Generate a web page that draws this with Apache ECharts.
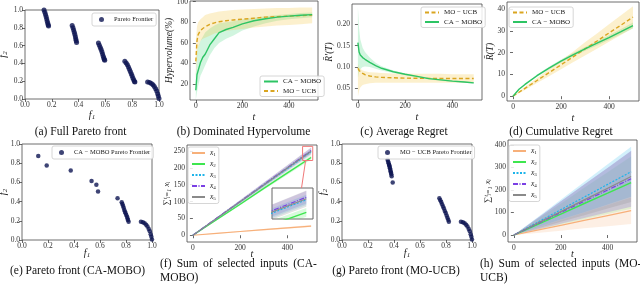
<!DOCTYPE html>
<html><head><meta charset="utf-8">
<script src="https://cdn.jsdelivr.net/npm/echarts@6/dist/echarts.min.js"></script>
<style>html,body{margin:0;padding:0;background:#fff}#c{width:640px;height:289px}</style>
</head><body><div id="c"></div><script>
// ---------- DATA ----------
// (a) full Pareto front
const fullF1 = [0.142,0.148,0.153,0.158,0.162,0.166,0.170,0.173,0.176,
  0.352,0.358,0.363,0.368,0.372,0.376,0.379,0.382,0.385,
  0.548,0.555,0.562,0.568,0.574,0.579,0.584,0.588,0.592,0.595,
  0.745,0.755,0.764,0.772,0.779,0.786,0.793,0.799,0.805,0.811,0.817,0.820,
  0.915,0.930,0.943,0.955,0.965,0.975,0.983,0.990,0.995,1.000];
const fullF2 = [1.000,0.975,0.950,0.925,0.900,0.875,0.850,0.832,0.820,
  0.825,0.800,0.775,0.750,0.725,0.700,0.675,0.655,0.635,
  0.630,0.605,0.580,0.555,0.530,0.505,0.480,0.460,0.445,0.435,
  0.425,0.405,0.385,0.360,0.335,0.310,0.285,0.260,0.235,0.215,0.197,0.190,
  0.190,0.185,0.175,0.160,0.140,0.115,0.090,0.060,0.035,0.005];
// (e) CA-MOBO Pareto front
const caF1 = [0.125,0.190,0.375,0.535,0.572,0.585,0.735,
  0.767,0.772,0.777,0.782,0.787,0.792,0.797,0.802,0.808,0.812,0.815,0.820,
  0.915,0.930,0.943,0.955,0.965,0.975,0.983,0.990,0.995,1.000];
const caF2 = [0.875,0.775,0.725,0.615,0.575,0.505,0.435,
  0.393,0.375,0.358,0.335,0.313,0.295,0.278,0.260,0.243,0.225,0.209,0.191,
  0.190,0.185,0.175,0.160,0.140,0.115,0.090,0.060,0.035,0.005];
// (g) MO-UCB Pareto front
const ucbF1 = [0.351,0.355,0.359,0.362,0.364,0.367,0.369,0.372,0.374,0.377,0.379,0.382,0.390,
  0.749,0.756,0.763,0.770,0.777,0.784,0.791,0.798,0.805,0.811,0.817,0.822,
  0.915,0.930,0.943,0.955,0.965,0.975,0.983,0.990,0.995,1.000];
const ucbF2 = [0.835,0.815,0.800,0.785,0.776,0.760,0.748,0.730,0.713,0.700,0.685,0.665,0.598,
  0.435,0.415,0.395,0.372,0.350,0.327,0.303,0.280,0.255,0.232,0.210,0.190,
  0.190,0.185,0.175,0.160,0.140,0.115,0.090,0.060,0.035,0.005];

// (b) dominated hypervolume
const tb = [0,5,10,20,30,40,60,80,100,130,160,200,250,300,350,400,450,500];
const caHv   = [14,29,33,41,46,49,58,64,70,73,75,78.5,81.5,83.5,85,86,86.8,87.5];
const caHvLo = [5,12,18,28,33,38,48,55,60,64,67,72,76,79,81.5,83,84,85];
const caHvHi = [30,50,56,62,66,70,74,77,79,80,81,83,84.5,86,87,88,89,89.5];
const moHv   = [42,62,68,72,74,75.5,78,79.5,80.5,81.5,82.3,83,84,85,85.5,86,86.5,87];
const moHvLo = [25,45,55,62,64,65,67,69,70,71.5,72.5,73.5,75,76,77,77.5,78,79];
const moHvHi = [60,76,80,83,85,87,88.5,89.5,90.5,91.3,92,92.5,93,93.5,93.8,94,94.3,94.5];

// (c) average regret
const tc = [0,5,10,20,30,50,75,100,150,200,250,300,350,400,450,490];
const caAr   = [0.157,0.135,0.128,0.122,0.118,0.111,0.103,0.097,0.089,0.083,0.078,0.073,0.070,0.067,0.065,0.063];
const caArLo = [0.075,0.090,0.095,0.100,0.101,0.100,0.096,0.092,0.086,0.081,0.076,0.071,0.068,0.065,0.063,0.061];
const caArHi = [0.240,0.190,0.165,0.145,0.135,0.122,0.110,0.102,0.092,0.085,0.080,0.075,0.072,0.069,0.067,0.065];
const moAr   = [0.097,0.092,0.089,0.085,0.082,0.079,0.077,0.0757,0.0748,0.074,0.0737,0.0735,0.0733,0.0732,0.0732,0.0731];
const moArLo = [0.031,0.045,0.052,0.058,0.060,0.062,0.063,0.063,0.063,0.063,0.063,0.063,0.063,0.063,0.063,0.063];
const moArHi = [0.108,0.100,0.096,0.092,0.090,0.088,0.087,0.086,0.085,0.085,0.084,0.084,0.084,0.083,0.083,0.083];

// (d) cumulative regret
const td = [0,25,50,100,150,200,250,300,350,400,450,500];
const caCr   = [0,3.2,5.4,9.4,12.9,16.1,19.0,21.7,24.3,26.9,29.6,32.4];
const caCrLo = [0,2.9,5.0,8.9,12.3,15.4,18.2,20.8,23.3,25.8,28.4,31.0];
const caCrHi = [0,3.5,5.8,9.9,13.5,16.8,19.8,22.6,25.3,28.0,30.8,33.8];
const moCr   = [0,1.8,3.6,7.2,10.8,14.4,18.0,21.7,25.3,29.0,32.6,36.3];
const moCrLo = [0,1.4,2.9,6.0,9.2,12.4,15.6,18.7,21.8,25.0,28.1,31.3];
const moCrHi = [0,2.2,4.3,8.4,12.4,16.4,20.4,24.7,28.8,33.0,37.1,41.3];

// (f) sum of selected inputs, CA-MOBO
const tf = [0,100,200,300,400,500];
const fX1 = [0,5.6,11.1,16.5,22.0,27.4];
const fX2 = [0,46,92,139,185,231];
const fX3 = [0,50,99,149,198,248];
const fX4 = [0,50.5,100.5,151,201,251.5];
const fX5 = [0,49.5,99.5,149.5,199.5,249.5];
const fS1 = [0,1,1.5,2,2.5,3];
const fS2 = [0,2,3,4,5,6];
const fS3 = [0,2,3.5,5,6,7];
const fS4 = [0,2.5,4,5.5,7,8.5];
const fS5 = [0,3,5,7,9,11];
// zoomed window of the inset
const zoomX = [464,507];
const zoomY = [222,264];

// (h) sum of selected inputs, MO-UCB
const hX1 = [0,21.5,43,65,86.5,108];
const hX2 = [0,46.5,93,140,186,233];
const hX3 = [0,56,112.5,168.5,225,281];
const hX4 = [0,50,100,150,200,250];
const hX5 = [0,52,104,156,208,260];
const hS1 = [0,12,24,35,47,59];
const hS2 = [0,23,46,70,93,116];
const hS3 = [0,22,44,67,89,111];
const hS4 = [0,25,50,74,99,124];
const hS5 = [0,23,45,68,90,113];

// tick labels
const fTicks = [0,0.2,0.4,0.6,0.8,1.0];
const tTicks = [0,200,400];
const hvTicks = [20,40,60,80,100];
const arTicks = [0.05,0.10,0.15,0.20];
const crTicks = [0,10,20,30,40];
const sfTicks = [0,50,100,150,200,250];
const shTicks = [0,100,200,300,400];

// ---------- STYLE ----------
const FONT = "'Liberation Serif','DejaVu Serif',serif";
const NAVY = '#0e1552';
const GREEN = '#2dc464';
const GOLD = '#daa520';
const C1 = '#f7b07a', C2 = '#3ee64f', C3 = '#1eb4ea', C4 = '#7a3fe4', C5 = '#8a8a8a';

const P = (xs, ys) => xs.map((x, i) => [x, ys[i]]);
const chart = echarts.init(document.getElementById('c'), null, {renderer: 'canvas', width: 640, height: 289});

const gridBoxes = [
  [25,10,134,89],[190,1,128,99],[352,4,130,96],[507,2,132,99],
  [22,144,130,96],[187,145,130,97],[342,144,130,96],[508,140,129,102],
  [272,188,41,31]
];
const grid = gridBoxes.map((g, i) => ({
  left: g[0], top: g[1], width: g[2], height: g[3], show: true,
  borderColor: i === 8 ? '#666' : '#4a4a4a', borderWidth: i === 8 ? 1 : 0.8,
  backgroundColor: i === 8 ? '#fff' : 'transparent', containLabel: false, outerBoundsMode: 'none'
}));

const richF = {
  i: {fontFamily: FONT, fontStyle: 'italic', fontSize: 10, color: '#222'},
  s: {fontFamily: FONT, fontSize: 7, color: '#222', padding: [5, 0, 0, 0]}
};
function ax(gi, min, max, ticks, dec, name, gap, opts) {
  opts = opts || {};
  const show = ticks !== null;
  const a = {
    type: 'value', gridIndex: gi, min: min, max: max,
    axisLine: {show: false},
    axisTick: {show: show, length: 3, lineStyle: {color: '#444', width: 0.8}, customValues: ticks || []},
    axisLabel: {show: show, customValues: ticks || [], margin: 2,
      formatter: v => dec == null ? String(v) : v.toFixed(dec),
      fontFamily: FONT, fontSize: 7.5, color: '#333'},
    splitLine: {show: false}
  };
  if (name) {
    a.name = name; a.nameLocation = 'middle'; a.nameGap = gap; a.nameMoveOverlap = false;
    a.nameTextStyle = Object.assign({fontFamily: FONT, fontSize: 10, fontStyle: 'italic', color: '#222', rich: richF}, opts.style || {});
    if (opts.rot != null) a.nameRotate = opts.rot;
  }
  return a;
}
const tRange = [-25, 525];
const xAxis = [
  ax(0, 0, 1, fTicks, 1, '{i|f}{s|1}', 10),
  ax(1, tRange[0], tRange[1], tTicks, null, 't', 12),
  ax(2, tRange[0], tRange[1], tTicks, null, 't', 12),
  ax(3, tRange[0], tRange[1], tTicks, null, 't', 12),
  ax(4, 0, 1, fTicks, 1, '{i|f}{s|1}', 7),
  ax(5, tRange[0], tRange[1], tTicks, null, 't', 7),
  ax(6, 0, 1, fTicks, 1, '{i|f}{s|1}', 7),
  ax(7, tRange[0], tRange[1], tTicks, null, 't', 7),
  ax(8, zoomX[0], zoomX[1], null)
];
const yAxis = [
  ax(0, 0, 1, fTicks, 1, '{i|f}{s|2}', 16, {rot: 90}),
  ax(1, 4.5, 100.7, hvTicks, null, 'Hypervolume(%)', 16, {rot: 90, style: {fontSize: 9.5}}),
  ax(2, 0.023, 0.247, arTicks, 2, 'R\u0304\u2032(T)', 18, {rot: 90, style: {fontSize: 9.5}}),
  ax(3, -2.2, 43.2, crTicks, null, 'R\u0304(T)', 12, {rot: 90, style: {fontSize: 9.5}}),
  ax(4, 0, 1, fTicks, 1, '{i|f}{s|2}', 13, {rot: 90}),
  ax(5, -20, 268, sfTicks, null, '\u2211\u1d57\u1d62\u208c\u2081 x\u1d62', 16, {rot: 90, style: {fontSize: 8.5}}),
  ax(6, 0, 1, fTicks, 1, '{i|f}{s|2}', 13, {rot: 90}),
  ax(7, -31, 422, shTicks, null, '\u2211\u1d57\u1d62\u208c\u2081 x\u1d62', 16, {rot: 90, style: {fontSize: 8.5}}),
  ax(8, zoomY[0], zoomY[1], null)
];

// shaded band between lo and hi, drawn through the axis scales, clipped to its grid
function band(gi, xs, lo, hi, color, op, id) {
  return [{
    type: 'custom', name: id, xAxisIndex: gi, yAxisIndex: gi, silent: true, z: 1,
    data: xs.map((x, i) => [x, lo[i], hi[i]]),
    encode: {x: 0, y: [1, 2]},
    renderItem: function (params, api) {
      if (params.dataIndex !== 0) return null;
      const up = xs.map((x, i) => api.coord([x, hi[i]]));
      const dn = xs.map((x, i) => api.coord([x, lo[i]])).reverse();
      const cs = params.coordSys;
      return {
        type: 'polygon', shape: {points: up.concat(dn)},
        style: {fill: color, opacity: op},
        clipPath: {type: 'rect', shape: {x: cs.x, y: cs.y, width: cs.width, height: cs.height}}
      };
    }
  }];
}
function bandS(gi, xs, mean, spread, color, op, id) {
  return band(gi, xs, mean.map((m, i) => m - spread[i]), mean.map((m, i) => m + spread[i]), color, op, id);
}
function line(gi, name, xs, ys, color, width, type, z) {
  return {type: 'line', name: name, xAxisIndex: gi, yAxisIndex: gi, data: P(xs, ys), symbol: 'none',
    showSymbol: false, z: z || 3, lineStyle: {color: color, width: width, type: type}, itemStyle: {color: color}};
}
function scat(gi, name, xs, ys, size) {
  return {type: 'scatter', name: name, xAxisIndex: gi, yAxisIndex: gi, data: P(xs, ys),
    symbolSize: size, itemStyle: {color: NAVY}, z: 3};
}
function sumSeries(gi, X, S, ops, pre) {
  const cols = [C1, C2, C3, C4, C5];
  const types = ['solid', 'solid', [2, 1.5], [5, 1.5, 1, 1.5], 'solid'];
  const widths = [1.2, 1.4, 1.2, 1.2, 1.2];
  let out = [];
  for (let k = 0; k < 5; k++) out = out.concat(bandS(gi, tf, X[k], S[k], cols[k], ops[k], pre + 'b' + k));
  for (let k = 0; k < 5; k++) out.push(line(gi, 'x' + (k + 1), tf, X[k], cols[k], widths[k], types[k]));
  return out;
}

const series = [].concat(
  [scat(0, 'Pareto Frontier', fullF1, fullF2, 5)],
  band(1, tb, caHvLo, caHvHi, '#3fd47a', 0.24, 'bca'),
  band(1, tb, moHvLo, moHvHi, '#f2c230', 0.24, 'bmo'),
  [line(1, 'MO − UCB', tb, moHv, GOLD, 1.4, [4, 2.5], 3), line(1, 'CA − MOBO', tb, caHv, GREEN, 1.4, 'solid', 4)],
  band(2, tc, caArLo, caArHi, '#3fd47a', 0.24, 'cca'),
  band(2, tc, moArLo, moArHi, '#f2c230', 0.24, 'cmo'),
  [line(2, 'MO − UCB', tc, moAr, GOLD, 1.4, [4, 2.5], 3), line(2, 'CA − MOBO', tc, caAr, GREEN, 1.4, 'solid', 4)],
  band(3, td, caCrLo, caCrHi, '#3fd47a', 0.24, 'dca'),
  band(3, td, moCrLo, moCrHi, '#f2c230', 0.24, 'dmo'),
  [line(3, 'MO − UCB', td, moCr, GOLD, 1.4, [4, 2.5], 3), line(3, 'CA − MOBO', td, caCr, GREEN, 1.4, 'solid', 4)],
  [scat(4, 'CA − MOBO Pareto Frontier', caF1, caF2, 4.5)],
  sumSeries(5, [fX1, fX2, fX3, fX4, fX5], [fS1, fS2, fS3, fS4, fS5], [0.25, 0.2, 0.2, 0.2, 0.25], 'f'),
  sumSeries(8, [fX1, fX2, fX3, fX4, fX5], [fS1, fS2, fS3, fS4, fS5], [0.25, 0.2, 0.2, 0.2, 0.25], 'i'),
  [scat(6, 'MO − UCB Pareto Frontier', ucbF1, ucbF2, 4.5)],
  sumSeries(7, [hX1, hX2, hX3, hX4, hX5], [hS1, hS2, hS3, hS4, hS5], [0.2, 0.14, 0.2, 0.22, 0.22], 'h')
);

function leg(left, top, names, iw, ih, extra) {
  return Object.assign({
    left: left, top: top, orient: 'vertical', data: names, selectedMode: false,
    itemWidth: iw, itemHeight: ih, itemGap: 2.5, padding: [2, 3, 2, 3],
    borderColor: '#cccccc', borderWidth: 0.8, borderRadius: 2, backgroundColor: 'rgba(255,255,255,0.85)',
    itemStyle: {opacity: 0},
    textStyle: {fontFamily: FONT, fontSize: 7, color: '#222', padding: [0, 0, 0, 0]}, z: 10
  }, extra || {});
}
const xRich = {
  formatter: n => '{i|x}{s|' + n.substring(1) + '}',
  textStyle: {fontFamily: FONT, fontSize: 7, color: '#222',
    rich: {i: {fontFamily: FONT, fontStyle: 'italic', fontSize: 7.5, color: '#222'},
           s: {fontFamily: FONT, fontSize: 5, color: '#222', padding: [4, 0, 0, 0]}}}
};
const dotText = {itemStyle: {}, textStyle: {fontFamily: FONT, fontSize: 6.5, color: '#222', padding: [0, 0, 0, 5]}};
const legend = [
  leg(92, 13, ['Pareto Frontier'], 5, 5, Object.assign({padding: [3, 3, 3, 7]}, dotText)),
  leg(260, 76, ['CA − MOBO', 'MO − UCB'], 14, 6),
  leg(421, 7, ['MO − UCB', 'CA − MOBO'], 14, 6),
  leg(509, 7, ['MO − UCB', 'CA − MOBO'], 14, 6),
  leg(52, 146, ['CA − MOBO Pareto Frontier'], 5, 5, Object.assign({padding: [3, 3, 3, 7]}, dotText)),
  leg(188, 147, ['x1', 'x2', 'x3', 'x4', 'x5'], 13, 6, xRich),
  leg(378, 146, ['MO − UCB Pareto Frontier'], 5, 5, Object.assign({padding: [3, 3, 3, 7]}, dotText)),
  leg(509, 145, ['x1', 'x2', 'x3', 'x4', 'x5'], 13, 6, xRich)
];

chart.setOption({animation: false, backgroundColor: '#fff', grid: grid, xAxis: xAxis, yAxis: yAxis, series: series, legend: legend});

// captions + zoom indicator
const capFont = '11.5px ' + FONT;
function cap(x, y, text, align) {
  return {type: 'text', x: x, y: y, silent: true, z: 20,
    style: {text: text, font: capFont, fill: '#111', align: align || 'center', verticalAlign: 'middle',
            textAlign: align || 'center', textVerticalAlign: 'middle'}};
}
const tl = chart.convertToPixel({gridIndex: 5}, [zoomX[0], zoomY[1]]);
const br = chart.convertToPixel({gridIndex: 5}, [zoomX[1], zoomY[0]]);
const inTop = chart.convertToPixel({gridIndex: 8}, [zoomX[0] + 0.72 * (zoomX[1] - zoomX[0]), zoomY[1]]);
chart.setOption({graphic: [
  cap(80.5, 132, '(a) Full Pareto front'),
  cap(243.5, 132, '(b) Dominated Hypervolume'),
  cap(404, 132, '(c) Average Regret'),
  cap(561, 132, '(d) Cumulative Regret'),
  cap(77.5, 271, '(e) Pareto front (CA-MOBO)'),
  cap(160, 264, '(f) \u2009Sum \u2009of \u2009selected \u2009inputs \u2009(CA-', 'left'),
  cap(160, 277.5, 'MOBO)', 'left'),
  cap(396, 271, '(g) Pareto front (MO-UCB)'),
  cap(480, 264, '(h) \u2009Sum \u2009of \u2009selected \u2009inputs \u2009(MO-', 'left'),
  cap(480, 277.5, 'UCB)', 'left'),
  {type: 'rect', silent: true, z: 15, shape: {x: tl[0], y: tl[1], width: br[0] - tl[0], height: br[1] - tl[1]},
   style: {fill: 'none', stroke: '#f07878', lineWidth: 1}},
  {type: 'line', silent: true, z: 15, shape: {x1: tl[0] + 0.3 * (br[0] - tl[0]), y1: br[1], x2: inTop[0], y2: inTop[1]},
   style: {stroke: '#f07878', lineWidth: 1}}
]});
</script></body></html>
